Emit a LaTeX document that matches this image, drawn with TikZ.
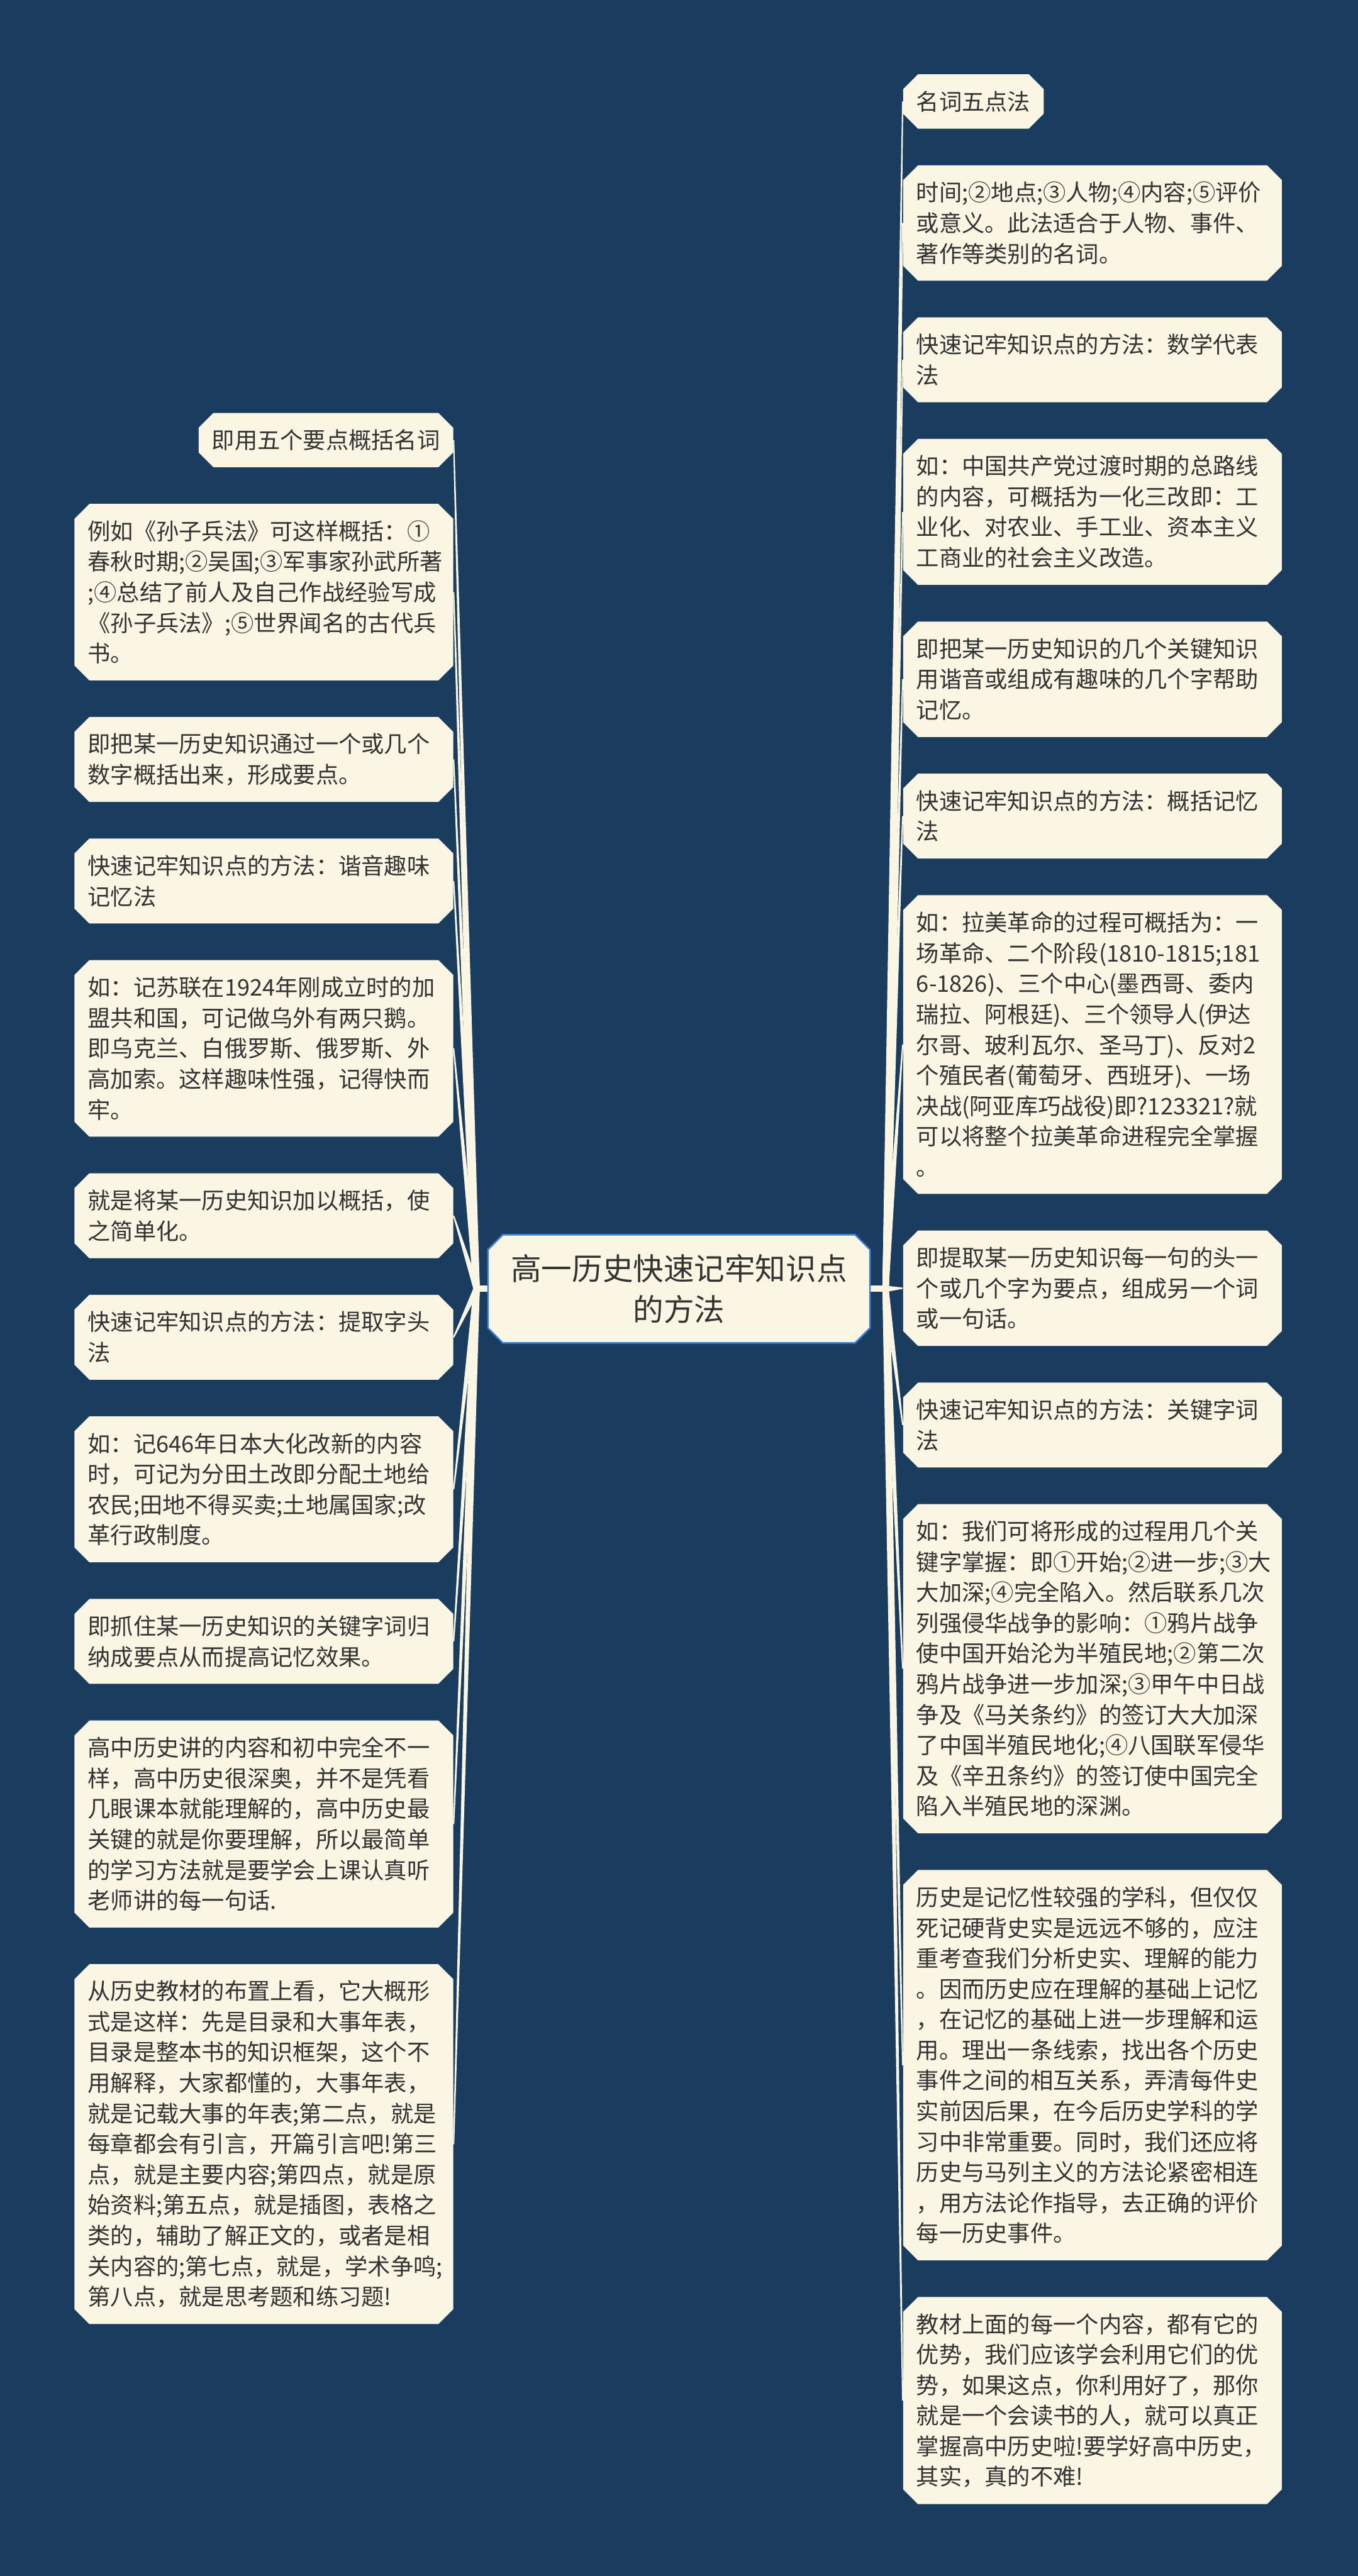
\documentclass[tikz,border=0pt]{standalone}
\usepackage{fontspec}
\newfontfamily\cjk{Noto Sans CJK SC}
\usetikzlibrary{positioning,shapes.misc,calc}
\definecolor{navybg}{HTML}{1A3D5F}
\definecolor{cream}{HTML}{FAF6E3}
\definecolor{inkgray}{HTML}{333333}
\definecolor{rootblue}{HTML}{3D80D6}
\pgfdeclarelayer{bg}
\pgfdeclarelayer{links}
\pgfsetlayers{bg,links,main}
\newcommand{\twig}[2]{\fill[cream] ($(#1)!1.5pt!90:(#2)$) -- ($(#2)!0.3pt!-90:(#1)$) -- ($(#2)!0.3pt!90:(#1)$) -- ($(#1)!1.5pt!-90:(#2)$) -- cycle;}

\begin{document}
\begin{tikzpicture}[node distance=24pt, every node/.style={font=\cjk\fontsize{10.75}{14.4}\selectfont,text=inkgray}]
    \tikzset{leafbox/.style={chamfered rectangle,chamfered rectangle xsep=3.5pt,chamfered rectangle ysep=3.5pt,fill=cream,align=left,inner xsep=2.75pt,inner ysep=2pt,minimum height={25.6pt+14.4pt*(#1-1)}},
      widebox/.style={leafbox=#1,text width=166pt},
      rootbox/.style={chamfered rectangle,chamfered rectangle xsep=3.5pt,chamfered rectangle ysep=3.5pt,fill=cream,draw=rootblue,line width=0.75pt,align=center,minimum width=180pt,minimum height=51pt,font=\cjk\fontsize{14.4}{19.25}\selectfont}}
    \path[use as bounding box] (0,0) rectangle (640pt,-1214.25pt);
    \begin{pgfonlayer}{bg}
      \fill[navybg] (0,0) rectangle (640pt,-1214.25pt);
    \end{pgfonlayer}
    \node[rootbox] (root) at (320pt,-607.5pt) {高一历史快速记牢知识点\\的方法};
    \coordinate (rj) at ($(root.east)+(7pt,0)$);
    \coordinate (lj) at ($(root.west)+(-5pt,0)$);
    % right side
    \node[leafbox=1,anchor=north west] (r1) at (429pt,-38.4pt) {名词五点法};
    \node[widebox=3,below=of r1.south west,anchor=north west] (r2) {时间;②地点;③人物;④内容;⑤评价\\或意义。此法适合于人物、事件、\\著作等类别的名词。};
    \node[widebox=2,below=of r2.south west,anchor=north west] (r3) {快速记牢知识点的方法：数学代表\\法};
    \node[widebox=4,below=of r3.south west,anchor=north west] (r4) {如：中国共产党过渡时期的总路线\\的内容，可概括为一化三改即：工\\业化、对农业、手工业、资本主义\\工商业的社会主义改造。};
    \node[widebox=3,below=of r4.south west,anchor=north west] (r5) {即把某一历史知识的几个关键知识\\用谐音或组成有趣味的几个字帮助\\记忆。};
    \node[widebox=2,below=of r5.south west,anchor=north west] (r6) {快速记牢知识点的方法：概括记忆\\法};
    \node[widebox=9,below=of r6.south west,anchor=north west] (r7) {如：拉美革命的过程可概括为：一\\场革命、二个阶段(1810-1815;181\\6-1826)、三个中心(墨西哥、委内\\瑞拉、阿根廷)、三个领导人(伊达\\尔哥、玻利瓦尔、圣马丁)、反对2\\个殖民者(葡萄牙、西班牙)、一场\\决战(阿亚库巧战役)即?123321?就\\可以将整个拉美革命进程完全掌握\\。};
    \node[widebox=3,below=of r7.south west,anchor=north west] (r8) {即提取某一历史知识每一句的头一\\个或几个字为要点，组成另一个词\\或一句话。};
    \node[widebox=2,below=of r8.south west,anchor=north west] (r9) {快速记牢知识点的方法：关键字词\\法};
    \node[widebox=10,below=of r9.south west,anchor=north west] (r10) {如：我们可将形成的过程用几个关\\键字掌握：即①开始;②进一步;③大\\大加深;④完全陷入。然后联系几次\\列强侵华战争的影响：①鸦片战争\\使中国开始沦为半殖民地;②第二次\\鸦片战争进一步加深;③甲午中日战\\争及《马关条约》的签订大大加深\\了中国半殖民地化;④八国联军侵华\\及《辛丑条约》的签订使中国完全\\陷入半殖民地的深渊。};
    \node[widebox=12,below=of r10.south west,anchor=north west] (r11) {历史是记忆性较强的学科，但仅仅\\死记硬背史实是远远不够的，应注\\重考查我们分析史实、理解的能力\\。因而历史应在理解的基础上记忆\\，在记忆的基础上进一步理解和运\\用。理出一条线索，找出各个历史\\事件之间的相互关系，弄清每件史\\实前因后果，在今后历史学科的学\\习中非常重要。同时，我们还应将\\历史与马列主义的方法论紧密相连\\，用方法论作指导，去正确的评价\\每一历史事件。};
    \node[widebox=6,below=of r11.south west,anchor=north west] (r12) {教材上面的每一个内容，都有它的\\优势，我们应该学会利用它们的优\\势，如果这点，你利用好了，那你\\就是一个会读书的人，就可以真正\\掌握高中历史啦!要学好高中历史，\\其实，真的不难!};
    % left side
    \node[leafbox=1,anchor=north east] (l1) at (210.25pt,-198pt) {即用五个要点概括名词};
    \node[widebox=5,below=of l1.south east,anchor=north east] (l2) {例如《孙子兵法》可这样概括：①\\春秋时期;②吴国;③军事家孙武所著\\;④总结了前人及自己作战经验写成\\《孙子兵法》;⑤世界闻名的古代兵\\书。};
    \node[widebox=2,below=of l2.south east,anchor=north east] (l3) {即把某一历史知识通过一个或几个\\数字概括出来，形成要点。};
    \node[widebox=2,below=of l3.south east,anchor=north east] (l4) {快速记牢知识点的方法：谐音趣味\\记忆法};
    \node[widebox=5,below=of l4.south east,anchor=north east] (l5) {如：记苏联在1924年刚成立时的加\\盟共和国，可记做乌外有两只鹅。\\即乌克兰、白俄罗斯、俄罗斯、外\\高加索。这样趣味性强，记得快而\\牢。};
    \node[widebox=2,below=of l5.south east,anchor=north east] (l6) {就是将某一历史知识加以概括，使\\之简单化。};
    \node[widebox=2,below=of l6.south east,anchor=north east] (l7) {快速记牢知识点的方法：提取字头\\法};
    \node[widebox=4,below=of l7.south east,anchor=north east] (l8) {如：记646年日本大化改新的内容\\时，可记为分田土改即分配土地给\\农民;田地不得买卖;土地属国家;改\\革行政制度。};
    \node[widebox=2,below=of l8.south east,anchor=north east] (l9) {即抓住某一历史知识的关键字词归\\纳成要点从而提高记忆效果。};
    \node[widebox=6,below=of l9.south east,anchor=north east] (l10) {高中历史讲的内容和初中完全不一\\样，高中历史很深奥，并不是凭看\\几眼课本就能理解的，高中历史最\\关键的就是你要理解，所以最简单\\的学习方法就是要学会上课认真听\\老师讲的每一句话.};
    \node[widebox=11,below=of l10.south east,anchor=north east] (l11) {从历史教材的布置上看，它大概形\\式是这样：先是目录和大事年表，\\目录是整本书的知识框架，这个不\\用解释，大家都懂的，大事年表，\\就是记载大事的年表;第二点，就是\\每章都会有引言，开篇引言吧!第三\\点，就是主要内容;第四点，就是原\\始资料;第五点，就是插图，表格之\\类的，辅助了解正文的，或者是相\\关内容的;第七点，就是，学术争鸣;\\第八点，就是思考题和练习题!};
    % connectors
    \begin{pgfonlayer}{links}
      \draw[cream,line width=3pt] (root.east) -- (rj);
      \draw[cream,line width=3pt] (root.west) -- (lj);
      \twig{rj}{r1.west}
      \twig{rj}{r2.west}
      \twig{rj}{r3.west}
      \twig{rj}{r4.west}
      \twig{rj}{r5.west}
      \twig{rj}{r6.west}
      \twig{rj}{r7.west}
      \twig{rj}{r8.west}
      \twig{rj}{r9.west}
      \twig{rj}{r10.west}
      \twig{rj}{r11.west}
      \twig{rj}{r12.west}
      \twig{lj}{l1.east}
      \twig{lj}{l2.east}
      \twig{lj}{l3.east}
      \twig{lj}{l4.east}
      \twig{lj}{l5.east}
      \twig{lj}{l6.east}
      \twig{lj}{l7.east}
      \twig{lj}{l8.east}
      \twig{lj}{l9.east}
      \twig{lj}{l10.east}
      \twig{lj}{l11.east}
    \end{pgfonlayer}
  \end{tikzpicture}
\end{document}
